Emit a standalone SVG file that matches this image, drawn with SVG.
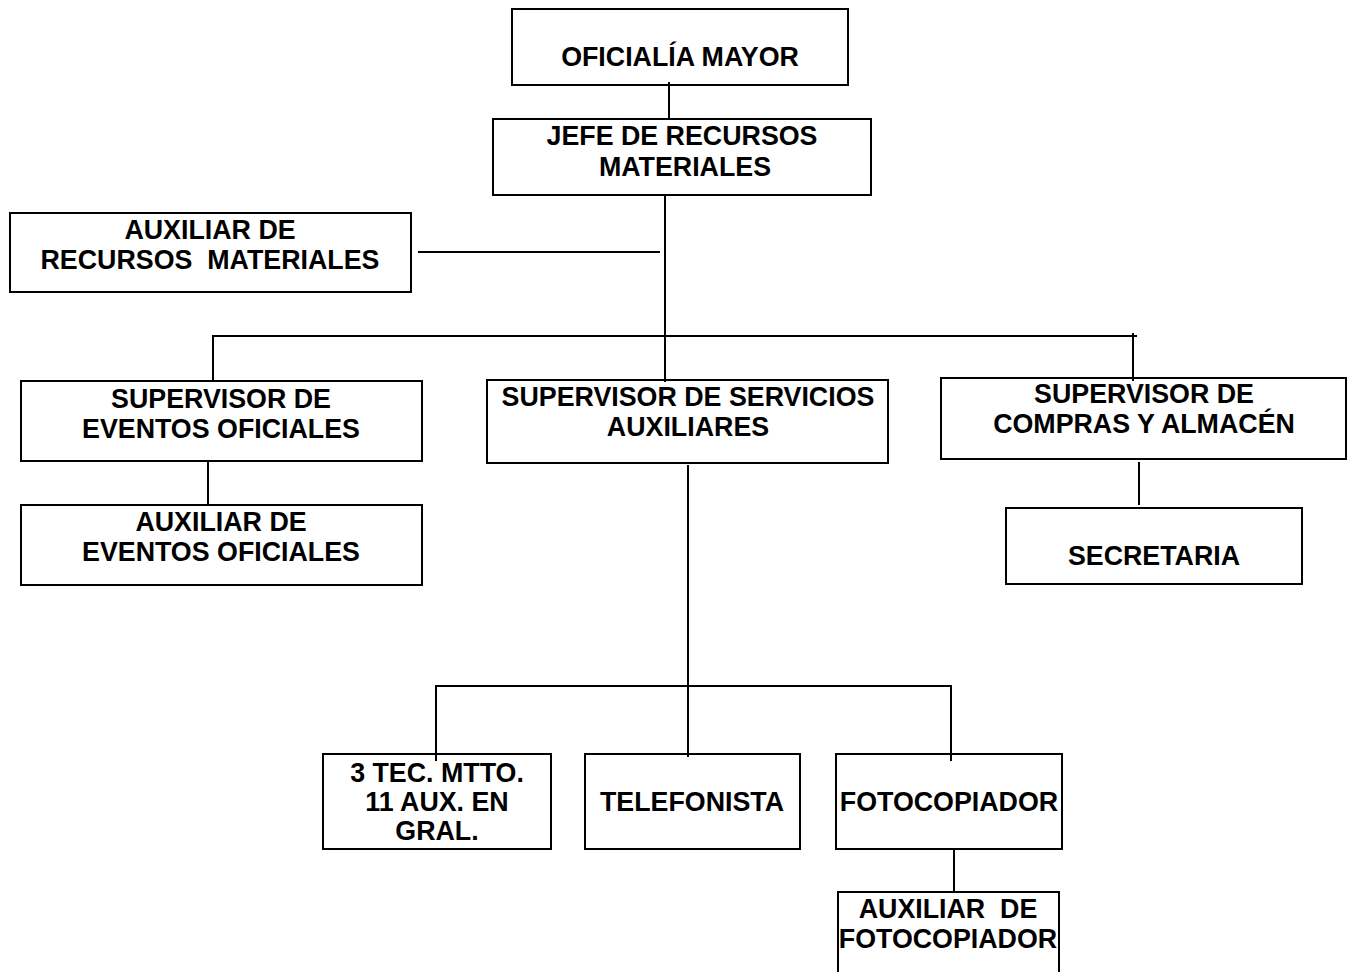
<svg xmlns="http://www.w3.org/2000/svg" width="1348" height="972" viewBox="0 0 1348 972">
<style>
rect.box{fill:#fff;stroke:#000;stroke-width:2}
.conn line{stroke:#000;stroke-width:2}
text{font-family:"Liberation Sans",Arial,sans-serif;font-weight:bold;font-size:26.8px;fill:#000;text-anchor:middle}
</style>
<rect width="1348" height="972" fill="#fff"/>
<g id="n-oficialia"><rect class="box" x="512" y="9" width="336" height="76"/><text x="680" y="66">OFICIALÍA MAYOR</text></g>
<g id="n-jefe"><rect class="box" x="493" y="119" width="378" height="76"/><text x="682" y="145">JEFE DE RECURSOS</text><text x="685" y="176">MATERIALES</text></g>
<g id="n-auxrm"><rect class="box" x="10" y="213" width="401" height="79"/><text x="210" y="239">AUXILIAR DE</text><text x="210" y="269" xml:space="preserve">RECURSOS  MATERIALES</text></g>
<g id="n-supev"><rect class="box" x="21" y="381" width="401" height="80"/><text x="221" y="408">SUPERVISOR DE</text><text x="221" y="438">EVENTOS OFICIALES</text></g>
<g id="n-auxev"><rect class="box" x="21" y="505" width="401" height="80"/><text x="221" y="531">AUXILIAR DE</text><text x="221" y="561">EVENTOS OFICIALES</text></g>
<g id="n-supserv"><rect class="box" x="487" y="380" width="401" height="83"/><text x="688" y="406">SUPERVISOR DE SERVICIOS</text><text x="688" y="436">AUXILIARES</text></g>
<g id="n-supcomp"><rect class="box" x="941" y="378" width="405" height="81"/><text x="1144" y="403">SUPERVISOR DE</text><text x="1144" y="433">COMPRAS Y ALMACÉN</text></g>
<g id="n-secret"><rect class="box" x="1006" y="508" width="296" height="76"/><text x="1154" y="565">SECRETARIA</text></g>
<g id="n-tec"><rect class="box" x="323" y="754" width="228" height="95"/><text x="437" y="782">3 TEC. MTTO.</text><text x="437" y="811">11 AUX. EN</text><text x="437" y="840">GRAL.</text></g>
<g id="n-telef"><rect class="box" x="585" y="754" width="215" height="95"/><text x="692" y="811">TELEFONISTA</text></g>
<g id="n-foto"><rect class="box" x="836" y="754" width="226" height="95"/><text x="949" y="811">FOTOCOPIADOR</text></g>
<g id="n-auxfoto"><path d="M838,975 V892 H1059 V975" fill="#fff" stroke="#000" stroke-width="2"/><text x="948" y="918" xml:space="preserve">AUXILIAR  DE</text><text x="948" y="948">FOTOCOPIADOR</text></g>
<g class="conn" id="connectors">
<line x1="669" y1="82" x2="669" y2="120"/>
<line x1="665" y1="195" x2="665" y2="382"/>
<line x1="418" y1="252" x2="660" y2="252"/>
<line x1="212" y1="336" x2="1137" y2="336"/>
<line x1="213" y1="336" x2="213" y2="381"/>
<line x1="1133" y1="333" x2="1133" y2="381"/>
<line x1="208" y1="461" x2="208" y2="505"/>
<line x1="1139" y1="462" x2="1139" y2="505"/>
<line x1="688" y1="465" x2="688" y2="757"/>
<line x1="435" y1="686" x2="952" y2="686"/>
<line x1="436" y1="686" x2="436" y2="761"/>
<line x1="951" y1="686" x2="951" y2="761"/>
<line x1="954" y1="849" x2="954" y2="892"/>
</g>
</svg>
